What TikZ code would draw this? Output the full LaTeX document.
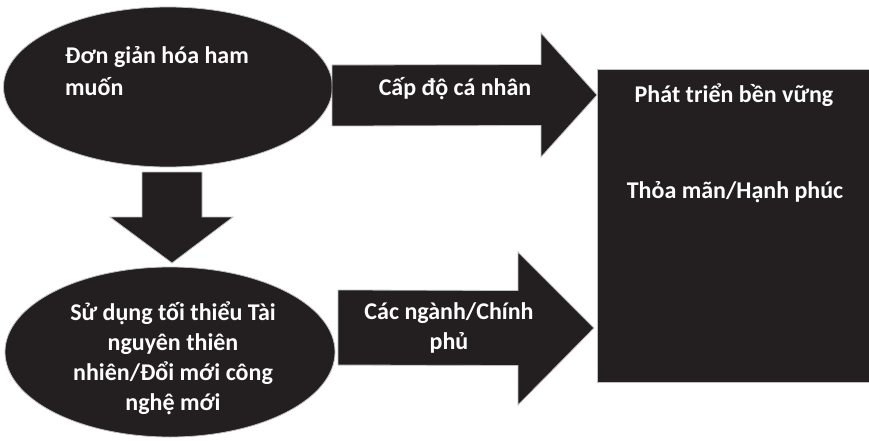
\documentclass[tikz,border=0pt]{standalone}
\usepackage{fontspec}
\setmainfont{Carlito}
\usetikzlibrary{calc,shapes.geometric}
\definecolor{inkblack}{RGB}{35,31,32}
\tikzset{
    blob/.style={ellipse, fill=inkblack, draw=gray!50, line width=0.8pt, inner sep=0pt},
    fat/.style={fill=inkblack, draw=gray!50, line width=0.8pt},
    words/.style={text=white, font=\bfseries\fontsize{24}{30}\selectfont, inner sep=0pt},
}

\begin{document}
\begin{tikzpicture}[x=1pt,y=-1pt]
    \useasboundingbox (0,0) rectangle (869,441);
    \node[blob, minimum width=329, minimum height=160] (wish) at (168,87) {};
    \node[blob, minimum width=330, minimum height=170] (use) at (170,352) {};
    \node[fat, minimum width=272, minimum height=313, anchor=north west, inner sep=0pt] (goal) at (597,69) {};
    \coordinate (A) at (332,95.5);
    \coordinate (B) at ($(goal.north west)+(0,26)$);
    \coordinate (C) at (338,327.5);
    \coordinate (D) at (594,328);
    \coordinate (E) at (172,172);
    \coordinate (F) at (172,263);
    \draw[fat] ($(A)+(0,-30.5)$) -- ($(B)+(-56,-30.5)$) -- ($(B)+(-56,-62)$) -- (B)
        -- ($(B)+(-56,62)$) -- ($(B)+(-56,30.5)$) -- ($(A)+(0,30.5)$) -- cycle;
    \draw[fat] ($(C)+(0,-37.5)$) -- ($(D)+(-76,-37.5)$) -- ($(D)+(-76,-76)$) -- (D)
        -- ($(D)+(-76,77)$) -- ($(D)+(-76,37.5)$) -- ($(C)+(0,37.5)$) -- cycle;
    \draw[fat] ($(E)+(-30,0)$) -- ($(E)+(30,0)$) -- ($(F)+(30,-46)$) -- ($(F)+(61,-46)$) -- (F)
        -- ($(F)+(-62,-46)$) -- ($(F)+(-30,-46)$) -- cycle;
    \node[words, anchor=north west, align=left, font=\bfseries\fontsize{24}{32}\selectfont] (wishtext) at (65,46) {Đơn giản hóa ham\\muốn};
    \node[words, align=center] (usetext) at (173,358) {Sử dụng tối thiểu Tài\\nguyên thiên\\nhiên/Đổi mới công\\nghệ mới};
    \node[words] (self) at (455,89) {Cấp độ cá nhân};
    \node[words, align=center] (gov) at (449,328) {Các ngành/Chính\\phủ};
    \node[words] (goal1) at (734,95) {Phát triển bền vững};
    \node[words] (goal2) at (735,192) {Thỏa mãn/Hạnh phúc};
\end{tikzpicture}
\end{document}
